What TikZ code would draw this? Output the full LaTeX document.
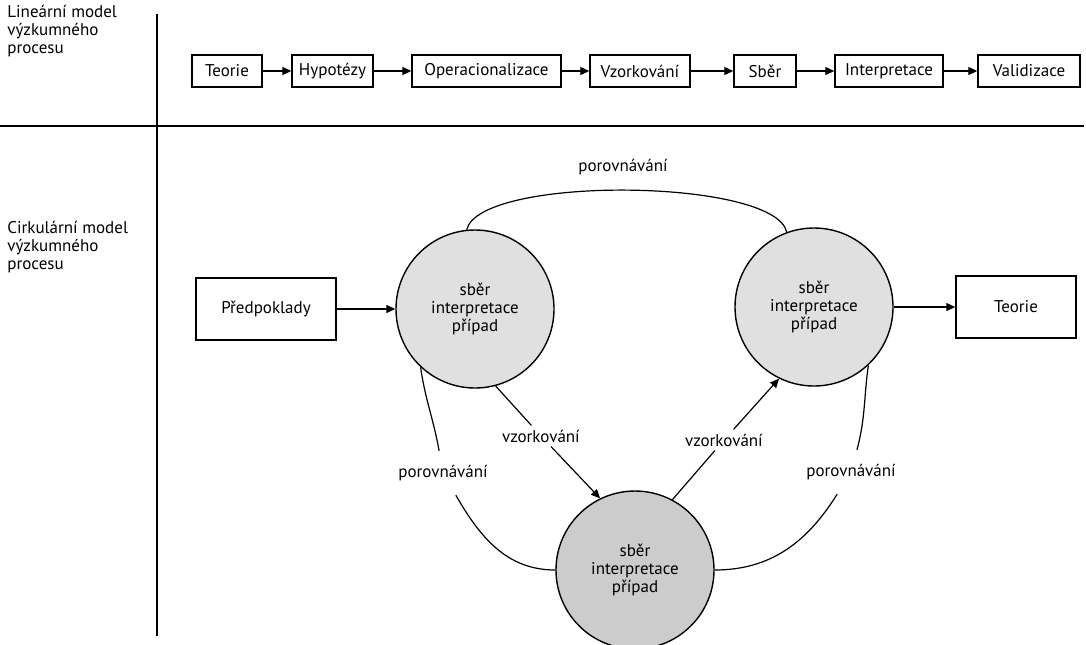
\documentclass[tikz,border=0pt]{standalone}
\usepackage{fontspec}
\setmainfont{PT Sans}
\usetikzlibrary{arrows.meta}

\begin{document}
\begin{tikzpicture}[x=0.5pt, y=-0.5pt, font=\fontsize{8.5}{8.9}\selectfont]
\tikzstyle{step_box} = [rectangle, minimum height=16pt, inner sep=1pt, text centered, draw=black, line width=0.7pt]
\tikzstyle{end_box}  = [rectangle, minimum height=31pt, inner sep=1pt, text centered, draw=black, line width=0.7pt]
\tikzstyle{cycle}    = [circle, minimum size=79pt, inner sep=0pt, align=center, draw=black, line width=0.7pt, fill=gray!24]
\tikzstyle{label}    = [inner sep=2pt, align=left]
\tikzstyle{gap}      = [inner xsep=2pt, inner ysep=7pt]
\tikzstyle{arrow}    = [line width=0.6pt, -{Triangle[length=4.5pt, width=4pt]}]
\tikzstyle{link}     = [line width=0.6pt]

\useasboundingbox (0,0) rectangle (1086,644);

% frame
\draw [line width=0.8pt] (157,14) -- (157,636);
\draw [line width=0.8pt] (0,126) -- (1084,126);

\node (lin_name)  [label, anchor=west] at (3,31)  {Lineární model\\výzkumného\\procesu};
\node (circ_name) [label, anchor=west] at (3,247) {Cirkulární model\\výzkumného\\procesu};

% linear model
\node (teorie1)  [step_box, minimum width=35pt]   at (227,71)   {Teorie};
\node (hypo)     [step_box, minimum width=40.5pt] at (332.5,71) {Hypotézy};
\node (oper)     [step_box, minimum width=74.5pt] at (486.5,71) {Operacionalizace};
\node (vzork)    [step_box, minimum width=50pt]   at (640,71)   {Vzorkování};
\node (sber)     [step_box, minimum width=31pt]   at (765,71)   {Sběr};
\node (interp)   [step_box, minimum width=54pt]   at (889,71)   {Interpretace};
\node (valid)    [step_box, minimum width=51pt]   at (1029,71)  {Validizace};

\draw [arrow] (teorie1) -- (hypo);
\draw [arrow] (hypo)    -- (oper);
\draw [arrow] (oper)    -- (vzork);
\draw [arrow] (vzork)   -- (sber);
\draw [arrow] (sber)    -- (interp);
\draw [arrow] (interp)  -- (valid);

% circular model
\node (predp)   [end_box, minimum width=70pt] at (266,309)  {Předpoklady};
\node (cyc1)    [cycle]                        at (475,309)  {sběr\\interpretace\\případ};
\node (cyc2)    [cycle]                        at (814,307)  {sběr\\interpretace\\případ};
\node (cyc3)    [cycle, fill=gray!40]          at (635,570)  {sběr\\interpretace\\případ};
\node (teorie2) [end_box, minimum width=60pt] at (1016,307) {Teorie};

\node (cmp_top)   [label] at (623,167) {porovnávání};
\node (cmp_left)  [label, gap] at (443,473) {porovnávání};
\node (cmp_right) [label, gap] at (851,472) {porovnávání};
\node (vz_left)   [label] at (541,436) {vzorkování};
\node (vz_right)  [label] at (724,440) {vzorkování};

\draw [arrow] (predp) -- (cyc1);
\draw [arrow] (cyc2)  -- (teorie2);

\draw [arrow] (cyc1.-75) -- (vz_left)  -- (cyc3.116);
\draw [arrow] (cyc3.62)  -- (vz_right) -- (cyc2.-116);

\draw [link] (cyc1.96) .. controls (480,175) and (775,178) .. (cyc2.110);
\draw [link] (cyc1.-133) to[out=-82, in=100] (cmp_left);
\draw [link] (cmp_left)  to[out=-60, in=180] (cyc3);
\draw [link] (cyc2.-47)  to[out=-98, in=75]  (cmp_right);
\draw [link] (cmp_right) to[out=-122, in=0]  (cyc3);
\end{tikzpicture}
\end{document}
